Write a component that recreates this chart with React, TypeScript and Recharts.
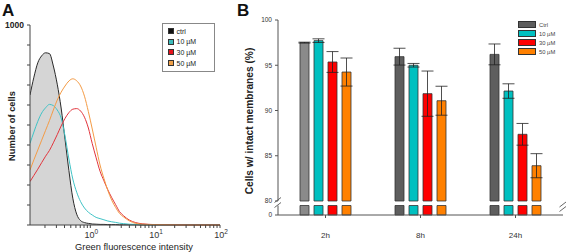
import {
  ComposedChart,
  Area,
  Line,
  BarChart,
  Bar,
  Cell,
  ErrorBar,
  XAxis,
  YAxis,
  Legend,
} from "recharts";

// ---------- panel A: histogram, x is log10(green fluorescence) ----------
const logIntensity = [
  -0.93, -0.87, -0.81, -0.75, -0.69, -0.63, -0.57, -0.51, -0.45, -0.39, -0.33,
  -0.27, -0.21, -0.15, -0.09, -0.03, 0.03, 0.09, 0.15, 0.21, 0.27, 0.33, 0.39,
  0.45, 0.51, 0.6, 0.7, 0.8, 1.0, 1.2, 1.5, 2.0,
];
const ctrlCounts = [
  650, 739, 811, 846, 861, 857, 795, 704, 585, 429, 272, 134, 54, 22, 12, 8, 5,
  4, 3, 3, 2, 2, 2, 1, 1, 1, 1, 0, 0, 0, 0, 0,
];
const um10Counts = [
  408, 465, 518, 560, 586, 603, 597, 575, 535, 445, 330, 230, 164, 117, 85, 64,
  50, 38, 32, 26, 20, 16, 13, 9, 7, 4, 3, 2, 1, 0, 0, 0,
];
const um30Counts = [
  217, 248, 279, 312, 344, 373, 411, 452, 495, 533, 562, 579, 582, 570, 539, 485,
  407, 336, 269, 221, 176, 137, 102, 67, 47, 25, 12, 6, 2, 1, 0, 0,
];
const um50Counts = [
  275, 326, 375, 424, 473, 522, 575, 625, 664, 695, 720, 731, 721, 695, 644, 567,
  480, 389, 300, 233, 173, 124, 88, 58, 41, 21, 8, 4, 2, 1, 0, 0,
];
const countTicks = [0, 100, 200, 300, 400, 500, 600, 700, 800, 900, 1000];
const decades = [-1, 0, 1, 2];

// ---------- panel B: membrane integrity ----------
const timepoints = ["2h", "8h", "24h"];
const ctrlIntact = [97.5, 95.95, 96.2];
const ctrlErr = [0.05, 0.93, 1.15];
const um10Intact = [97.72, 95.0, 92.15];
const um10Err = [0.2, 0.2, 0.8];
const um30Intact = [95.36, 91.86, 87.37];
const um30Err = [1.15, 2.5, 1.2];
const um50Intact = [94.25, 91.08, 83.9];
const um50Err = [1.55, 1.6, 1.33];
const intactTicks = [80, 85, 90, 95, 100];
const breakAt = 80;

const FONT = "'Liberation Sans', Arial, Helvetica, sans-serif";
const LOG_MIN = -0.93;
const LOG_MAX = 2;

const histSeries = [
  { key: "um10", name: "10 µM", line: "#3fc3c6", swatch: "#3cbcbc" },
  { key: "um30", name: "30 µM", line: "#e2343c", swatch: "#e8141c" },
  { key: "um50", name: "50 µM", line: "#f49b45", swatch: "#f0a048" },
];

const barSeries = [
  { key: "ctrl", name: "Ctrl", fill: "#5e5e5e" },
  { key: "um10", name: "10 µM", fill: "#00c0c0" },
  { key: "um30", name: "30 µM", fill: "#ff0000" },
  { key: "um50", name: "50 µM", fill: "#ff8000" },
];
// the 2h control bar is printed in a lighter grey
const ctrlShades = ["#8a8a8a", "#5e5e5e", "#5e5e5e"];

const histData = logIntensity.map((logI, i) => ({
  logI,
  ctrl: ctrlCounts[i],
  um10: um10Counts[i],
  um30: um30Counts[i],
  um50: um50Counts[i],
}));

const logTicks = decades
  .flatMap((d) => [1, 2, 3, 4, 5, 6, 7, 8, 9].map((k) => d + Math.log10(k)))
  .filter((t) => t >= LOG_MIN && t <= LOG_MAX + 1e-9);

const barData = timepoints.map((t, i) => ({
  t,
  ctrl: ctrlIntact[i],
  ctrlErr: ctrlErr[i],
  um10: um10Intact[i],
  um10Err: um10Err[i],
  um30: um30Intact[i],
  um30Err: um30Err[i],
  um50: um50Intact[i],
  um50Err: um50Err[i],
}));

// part of each bar below the axis break
const stubData = timepoints.map((t, i) => ({
  t,
  ctrl: Math.min(ctrlIntact[i], breakAt),
  um10: Math.min(um10Intact[i], breakAt),
  um30: Math.min(um30Intact[i], breakAt),
  um50: Math.min(um50Intact[i], breakAt),
}));

function PowerTick(props: any) {
  const { x, y, payload } = props;
  const v = payload.value;
  if (Math.abs(v - Math.round(v)) > 1e-6) return <g />;
  return (
    <text x={x + 1} y={y} textAnchor="middle" fontSize={9} fill="#333" fontFamily={FONT}>
      <tspan dy={8}>10</tspan>
      <tspan dy={-4} fontSize={6.5}>
        {Math.round(v)}
      </tspan>
    </text>
  );
}

function HistLegend() {
  const rows = [{ name: "ctrl", swatch: "#111" }, ...histSeries];
  return (
    <div
      style={{
        border: "1px solid #888",
        padding: "2px 0 0 5px",
        fontFamily: FONT,
        fontSize: 7,
        color: "#222",
        boxSizing: "border-box",
        width: 53,
        height: 49,
      }}
    >
      {rows.map((r) => (
        <div key={r.name} style={{ display: "flex", alignItems: "center", height: 10.6 }}>
          <span
            style={{
              display: "inline-block",
              width: 4,
              height: 4,
              background: r.swatch,
              border: "0.5px solid #333",
              marginRight: 2.5,
            }}
          />
          {r.name}
        </div>
      ))}
    </div>
  );
}

function BarLegend() {
  return (
    <div style={{ fontFamily: FONT, fontSize: 5.8, color: "#444" }}>
      {barSeries.map((s) => (
        <div key={s.key} style={{ display: "flex", alignItems: "center", height: 8.9 }}>
          <span
            style={{
              display: "inline-block",
              width: 16,
              height: 5,
              background: s.fill,
              border: "0.8px solid #333",
              marginRight: 3,
            }}
          />
          {s.name}
        </div>
      ))}
    </div>
  );
}

function HistogramPanel() {
  return (
    <ComposedChart
      width={240}
      height={252}
      data={histData}
      margin={{ top: 25, right: 20, bottom: 12, left: 0 }}
    >
      <XAxis
        type="number"
        dataKey="logI"
        domain={[LOG_MIN, LOG_MAX]}
        ticks={logTicks}
        interval={0}
        tick={<PowerTick />}
        tickSize={3}
        tickMargin={2}
        height={15}
        stroke="#444"
        allowDataOverflow
      />
      <YAxis
        domain={[0, 1000]}
        ticks={countTicks}
        interval={0}
        tickFormatter={(v: number) => (v === 1000 ? "1000" : "")}
        width={30}
        tickSize={3}
        tickMargin={3}
        stroke="#444"
        tick={{ fontSize: 8.5, fill: "#222", fontWeight: "bold", fontFamily: FONT }}
      />
      <Area
        type="monotone"
        dataKey="ctrl"
        name="ctrl"
        stroke="#2a2a2a"
        strokeWidth={1}
        fill="#d5d5d5"
        fillOpacity={1}
        isAnimationActive={false}
      />
      {histSeries.map((s) => (
        <Line
          key={s.key}
          type="monotone"
          dataKey={s.key}
          name={s.name}
          stroke={s.line}
          strokeWidth={1}
          dot={false}
          isAnimationActive={false}
        />
      ))}
      <Legend
        layout="vertical"
        align="center"
        verticalAlign="middle"
        content={() => <HistLegend />}
        wrapperStyle={{ left: 162, top: 23, width: 53, height: 49 }}
      />
    </ComposedChart>
  );
}

function IntactUpper() {
  return (
    <BarChart
      width={337}
      height={205}
      data={barData}
      barSize={9}
      barGap={5}
      margin={{ top: 20, right: 4, bottom: 4, left: 0 }}
    >
      <XAxis dataKey="t" hide />
      <XAxis
        xAxisId="top"
        dataKey="t"
        orientation="top"
        height={0}
        tick={false}
        tickLine={false}
        stroke="#555"
      />
      <YAxis
        domain={[80, 100]}
        ticks={intactTicks}
        interval={0}
        width={48}
        tickSize={3}
        tickMargin={3}
        stroke="#555"
        tick={{ fontSize: 6.5, fill: "#333", fontFamily: FONT }}
      />
      <YAxis
        yAxisId="right"
        orientation="right"
        domain={[80, 100]}
        width={0}
        tick={false}
        tickLine={false}
        stroke="#555"
      />
      {barSeries.map((s) => (
        <Bar
          key={s.key}
          dataKey={s.key}
          name={s.name}
          fill={s.fill}
          stroke="#333"
          strokeWidth={0.8}
          isAnimationActive={false}
        >
          {s.key === "ctrl" &&
            ctrlShades.map((c, i) => <Cell key={i} fill={c} />)}
          <ErrorBar dataKey={`${s.key}Err`} width={6} stroke="#222" strokeWidth={0.8} />
        </Bar>
      ))}
      <Legend
        layout="vertical"
        align="center"
        verticalAlign="middle"
        content={() => <BarLegend />}
        wrapperStyle={{ left: 288, top: 20.5, width: 45, height: 36 }}
      />
    </BarChart>
  );
}

function IntactLower() {
  return (
    <BarChart
      width={337}
      height={62}
      data={stubData}
      barSize={9}
      barGap={5}
      margin={{ top: 15.5, right: 4, bottom: 17, left: 0 }}
    >
      <XAxis
        dataKey="t"
        height={20}
        tickSize={3}
        tickMargin={14}
        stroke="#555"
        tick={{ fontSize: 8, fill: "#333", fontFamily: FONT }}
      />
      <YAxis
        domain={[0, breakAt]}
        ticks={[0]}
        width={48}
        tickSize={3}
        tickMargin={3}
        stroke="#555"
        tick={{ fontSize: 6.5, fill: "#333", fontFamily: FONT }}
      />
      <YAxis
        yAxisId="right"
        orientation="right"
        domain={[0, breakAt]}
        width={0}
        tick={false}
        tickLine={false}
        stroke="#555"
      />
      {barSeries.map((s) => (
        <Bar
          key={s.key}
          dataKey={s.key}
          name={s.name}
          fill={s.fill}
          stroke="#333"
          strokeWidth={0.8}
          isAnimationActive={false}
        >
          {s.key === "ctrl" &&
            ctrlShades.map((c, i) => <Cell key={i} fill={c} />)}
        </Bar>
      ))}
    </BarChart>
  );
}

export default function App() {
  return (
    <div
      style={{
        position: "absolute",
        left: 0,
        top: 0,
        width: 567,
        height: 252,
        background: "#fff",
        fontFamily: FONT,
      }}
    >
      <div style={{ position: "absolute", left: 0, top: 0 }}>
        <HistogramPanel />
      </div>
      <div style={{ position: "absolute", left: 230, top: 0 }}>
        <IntactUpper />
      </div>
      <div style={{ position: "absolute", left: 230, top: 190 }}>
        <IntactLower />
      </div>
      <svg
        width={567}
        height={252}
        style={{ position: "absolute", left: 0, top: 0, pointerEvents: "none" }}
        fontFamily={FONT}
      >
        <text x={2} y={16} fontSize={17} fontWeight="bold" fill="#111">
          A
        </text>
        <text x={237} y={16} fontSize={17} fontWeight="bold" fill="#111">
          B
        </text>
        <text
          transform="translate(15,126) rotate(-90)"
          textAnchor="middle"
          fontSize={9.3}
          fontWeight="bold"
          fill="#222"
        >
          Number of cells
        </text>
        <text x={134} y={249.5} textAnchor="middle" fontSize={9.3} fill="#222">
          Green fluorescence intensity
        </text>
        <text
          transform="translate(253,121) rotate(-90)"
          textAnchor="middle"
          fontSize={10.2}
          fontWeight="bold"
          fill="#222"
        >
          Cells w/ intact membranes (%)
        </text>
        {/* axis break marks */}
        <g stroke="#555" strokeWidth={0.9}>
          <line x1={274.5} y1={202.5} x2={281} y2={197.5} />
          <line x1={274.5} y1={207.5} x2={281} y2={202.5} />
          <line x1={559.5} y1={207} x2={566} y2={202} />
          <line x1={559.5} y1={211.5} x2={566} y2={206.5} />
        </g>
      </svg>
    </div>
  );
}
